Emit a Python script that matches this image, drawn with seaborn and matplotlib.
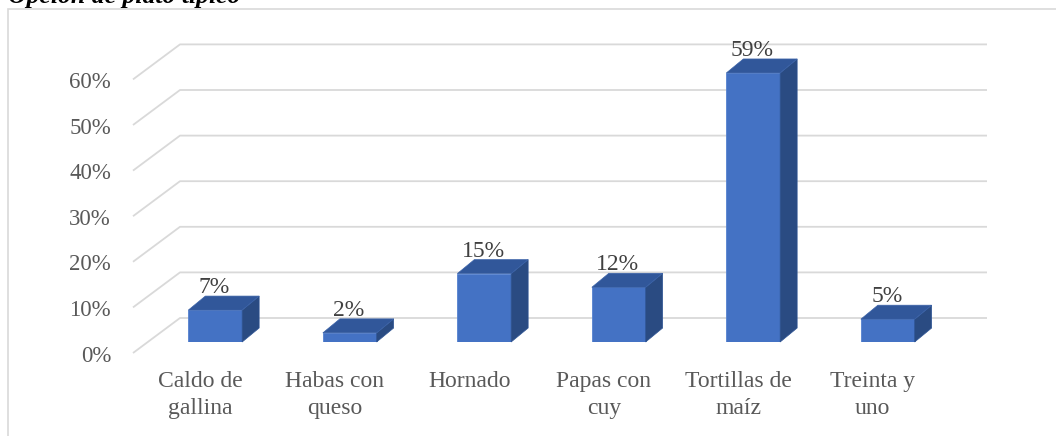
import matplotlib
matplotlib.use("Agg")
import matplotlib.pyplot as plt
import seaborn as sns
import pandas as pd
from matplotlib.patches import Polygon, Rectangle
from matplotlib.transforms import offset_copy

# Data
categories = ["Caldo de\ngallina", "Habas con\nqueso", "Hornado",
              "Papas con\ncuy", "Tortillas de\nmaíz", "Treinta y\nuno"]
values = [7, 2, 15, 12, 59, 5]
y_ticks = [0, 10, 20, 30, 40, 50, 60]
y_tick_labels = [f"{v}%" for v in y_ticks]
title = "Opción de plato típico"

sns.set_theme(style="white")
plt.rcParams["font.family"] = ["Liberation Serif", "DejaVu Serif"]

W, H = 1056, 436
DPI = 100
fig = plt.figure(figsize=(W / DPI, H / DPI), dpi=DPI)

# Axes = plane of the bars' front faces
ax_left, ax_bottom, ax_width = 148, 94, 807
px_per_pct = 4.56
ymax = 65
ax = fig.add_axes([ax_left / W, ax_bottom / H, ax_width / W, ymax * px_per_pct / H])

df = pd.DataFrame({"plato": categories, "pct": values})
sns.barplot(data=df, x="plato", y="pct", order=categories, width=0.4,
            color="#4472C4", saturation=1, ax=ax, zorder=3,
            edgecolor="#5582D0", linewidth=0.6)
ax.set_xlim(-0.5, len(categories) - 0.5)
ax.set_ylim(0, ymax)
ax.axis("off")

sx = ax_width / len(categories)   # pixels per category
sy = px_per_pct                   # pixels per percent

def dx(px):
    return px / sx

def dy(px):
    return px / sy

# Floor / wall grid: front edge, diagonal to back wall, back wall line
front = (-15, -11)
back = (32, 24)
n = len(categories)
for v in y_ticks:
    xs = [-0.5 + dx(front[0]), -0.5 + dx(back[0]), n - 0.5 + dx(back[0])]
    ys = [v + dy(front[1]), v + dy(back[1]), v + dy(back[1])]
    ax.plot(xs, ys, color="#D9D9D9", lw=1.3, zorder=1, clip_on=False,
            solid_capstyle="butt")

# Y tick labels at the front edge
for v, lab in zip(y_ticks, y_tick_labels):
    tr = offset_copy(ax.transData, fig=fig, x=-22, y=-3, units="dots")
    ax.text(-0.5 + dx(front[0]), v + dy(front[1]), lab, transform=tr,
            ha="right", va="center", fontsize=16.5, color="#595959", clip_on=False)

# Depth faces of the bars
bd_x, bd_y = 17, 14
for p in ax.patches:
    x0, w, h = p.get_x(), p.get_width(), p.get_height()
    side = [(x0 + w, 0), (x0 + w + dx(bd_x), dy(bd_y)),
            (x0 + w + dx(bd_x), h + dy(bd_y)), (x0 + w, h)]
    top = [(x0, h), (x0 + w, h), (x0 + w + dx(bd_x), h + dy(bd_y)),
           (x0 + dx(bd_x), h + dy(bd_y))]
    ax.add_patch(Polygon(side, closed=True, fc="#2A4B82", ec="#2F5595",
                         lw=0.5, zorder=3, clip_on=False))
    ax.add_patch(Polygon(top, closed=True, fc="#31579A", ec="#3A62A8",
                         lw=0.5, zorder=3, clip_on=False))

# Value labels
for i, v in enumerate(values):
    tr = offset_copy(ax.transData, fig=fig, x=-1, y=bd_y + 3, units="dots")
    ax.text(i, v, f"{v}%", transform=tr, ha="center", va="baseline",
            fontsize=17, color="#404040", clip_on=False)

# Category labels on the front floor edge
for i, cat in enumerate(categories):
    tr = offset_copy(ax.transData, fig=fig, x=0, y=-(371 - 342 - 11), units="dots")
    ax.text(i + dx(front[0]), dy(front[1]), cat, transform=tr, ha="center",
            va="top", fontsize=17, color="#595959", linespacing=1.4,
            clip_on=False)

# Chart frame
fig.add_artist(Rectangle((8 / W, -0.1), 1.2, (H - 9.5) / H + 0.1,
                         transform=fig.transFigure, fill=False,
                         ec="#D9D9D9", lw=1.2))

fig.text(8 / W, 1 - 3 / H, title, ha="left", va="baseline", fontsize=18.5,
         fontweight="bold", fontstyle="italic", color="black")

fig.savefig("out.png", dpi=DPI)
